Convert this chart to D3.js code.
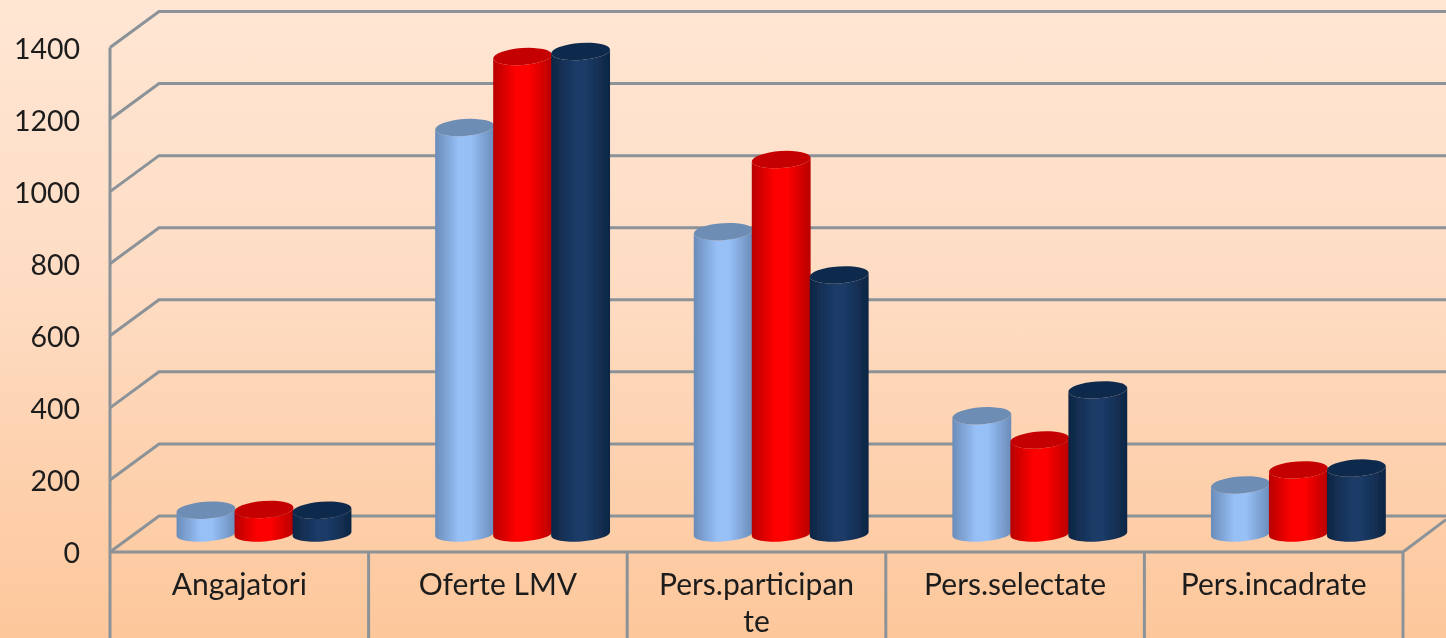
<!DOCTYPE html>
<html><head><meta charset="utf-8">
<script src="https://cdn.jsdelivr.net/npm/d3@7"></script>
<style>html,body{margin:0;padding:0;overflow:hidden;background:#fdd}svg{display:block}text{font-family:Lato,"Open Sans",sans-serif;fill:#1d1d1d}</style>
</head><body><svg id="c" width="1446" height="638"></svg>
<script>
const categories = ["Angajatori","Oferte LMV","Pers.participante","Pers.selectate","Pers.incadrate"];
const categoryLines = [["Angajatori"],["Oferte LMV"],["Pers.participan","te"],["Pers.selectate"],["Pers.incadrate"]];
const seriesA = [66, 1128, 839, 328, 136];
const seriesB = [68, 1325, 1039, 261, 178];
const seriesC = [66, 1339, 719, 400, 183];
const yTicks = [0,200,400,600,800,1000,1200,1400];

const W=1446,H=638;
const svg=d3.select("#c");
const defs=svg.append("defs");
const bg=defs.append("linearGradient").attr("id","bg").attr("x1",0).attr("y1",0).attr("x2",0).attr("y2",1);
bg.append("stop").attr("offset","0").attr("stop-color","#ffe6d4");
bg.append("stop").attr("offset","0.45").attr("stop-color","#fedcc3");
bg.append("stop").attr("offset","1").attr("stop-color","#fdc79b");
const blur=defs.append("filter").attr("id","soft").attr("x","-5%").attr("y","-5%").attr("width","110%").attr("height","110%");
blur.append("feGaussianBlur").attr("stdDeviation",0.7);
const palette=[
 {id:"a",edge:"#6a8cb9",mid:"#97c0f7",top:"#6d8db5"},
 {id:"b",edge:"#b80000",mid:"#ff0000",top:"#c40000"},
 {id:"c",edge:"#0e2644",mid:"#1a3a66",top:"#112c4e"}];
palette.forEach(p=>{
 const g=defs.append("linearGradient").attr("id","g"+p.id).attr("x1",0).attr("y1",0).attr("x2",1).attr("y2",0);
 g.append("stop").attr("offset","0").attr("stop-color",p.edge);
 g.append("stop").attr("offset","0.4").attr("stop-color",p.mid);
 g.append("stop").attr("offset","0.6").attr("stop-color",p.mid);
 g.append("stop").attr("offset","1").attr("stop-color",p.edge);
});
svg.append("rect").attr("width",W).attr("height",H).attr("fill","url(#bg)");

const y=d3.scaleLinear().domain([0,1400]).range([552,47.5]);
const x=d3.scaleBand().domain(categories).range([110,1403]).padding(0);
const series=d3.scaleBand().domain(["a","b","c"]).range([0,174]);
const dx=49,dy=-36;
const grid="#8b9298";
const root=svg.append("g").attr("filter","url(#soft)");
const gl=root.append("g").attr("fill","none").attr("stroke",grid).attr("stroke-width",3);
gl.selectAll("path.g").data(yTicks).join("path").attr("class","g")
 .attr("d",t=>`M${x.range()[0]},${y(t)}L${x.range()[0]+dx},${y(t)+dy}L${W},${y(t)+dy}`);
gl.append("path").attr("d",`M110,${y(1400)}V${H}`);
gl.append("path").attr("d",`M110,552H1403L${W},${552+dy*0.9}`);
categories.forEach(c=>gl.append("path").attr("d",`M${x(c)+x.bandwidth()},552V${H}`));

const axis=d3.axisLeft(y).tickValues(yTicks).tickSize(0).tickPadding(0).tickFormat(d3.format("d"));
const ax=root.append("g").attr("transform","translate(80,1)").call(axis);
ax.select(".domain").remove();
ax.selectAll("text").attr("font-size",28.5).attr("text-anchor","end").attr("dy","0.35em").style("font-family","Lato");

const rx=29.5,ry=8.5,ryBase=7.5,rot=-4;
const base=y(0)+dy/2;
const rad=rot*Math.PI/180;
const perBand=[seriesA,seriesB,seriesC];
const ids=["a","b","c"];
const bars=root.append("g");
categories.forEach((c,ci)=>{
 ids.forEach((id,si)=>{
  const p=palette[si];
  const v=perBand[si][ci];
  const cx=x(c)+66.5+series(id)+rx;
  const yTop=base+(y(v)-y(0));
  const lx=rx*Math.cos(rad),ly=rx*Math.sin(rad);
  const body=`M${cx-lx},${yTop-ly}L${cx-lx},${base-ly}A${rx},${ryBase} ${rot} 0 0 ${cx+lx},${base+ly}L${cx+lx},${yTop+ly}A${rx},${ry} ${rot} 0 1 ${cx-lx},${yTop-ly}Z`;
  bars.append("path").attr("d",body).attr("fill",`url(#g${id})`);
  bars.append("ellipse").attr("cx",cx).attr("cy",yTop).attr("rx",rx).attr("ry",ry)
    .attr("transform",`rotate(${rot} ${cx} ${yTop})`).attr("fill",p.top);
 });
});

const labels=root.append("g").attr("font-size",30).attr("text-anchor","middle");
categories.forEach((c,i)=>{
 const t=labels.append("text").attr("x",x(c)+x.bandwidth()/2).attr("y",595);
 categoryLines[i].forEach((l,j)=>t.append("tspan").attr("x",x(c)+x.bandwidth()/2).attr("dy",j?37:0).text(l));
});
</script></body></html>
